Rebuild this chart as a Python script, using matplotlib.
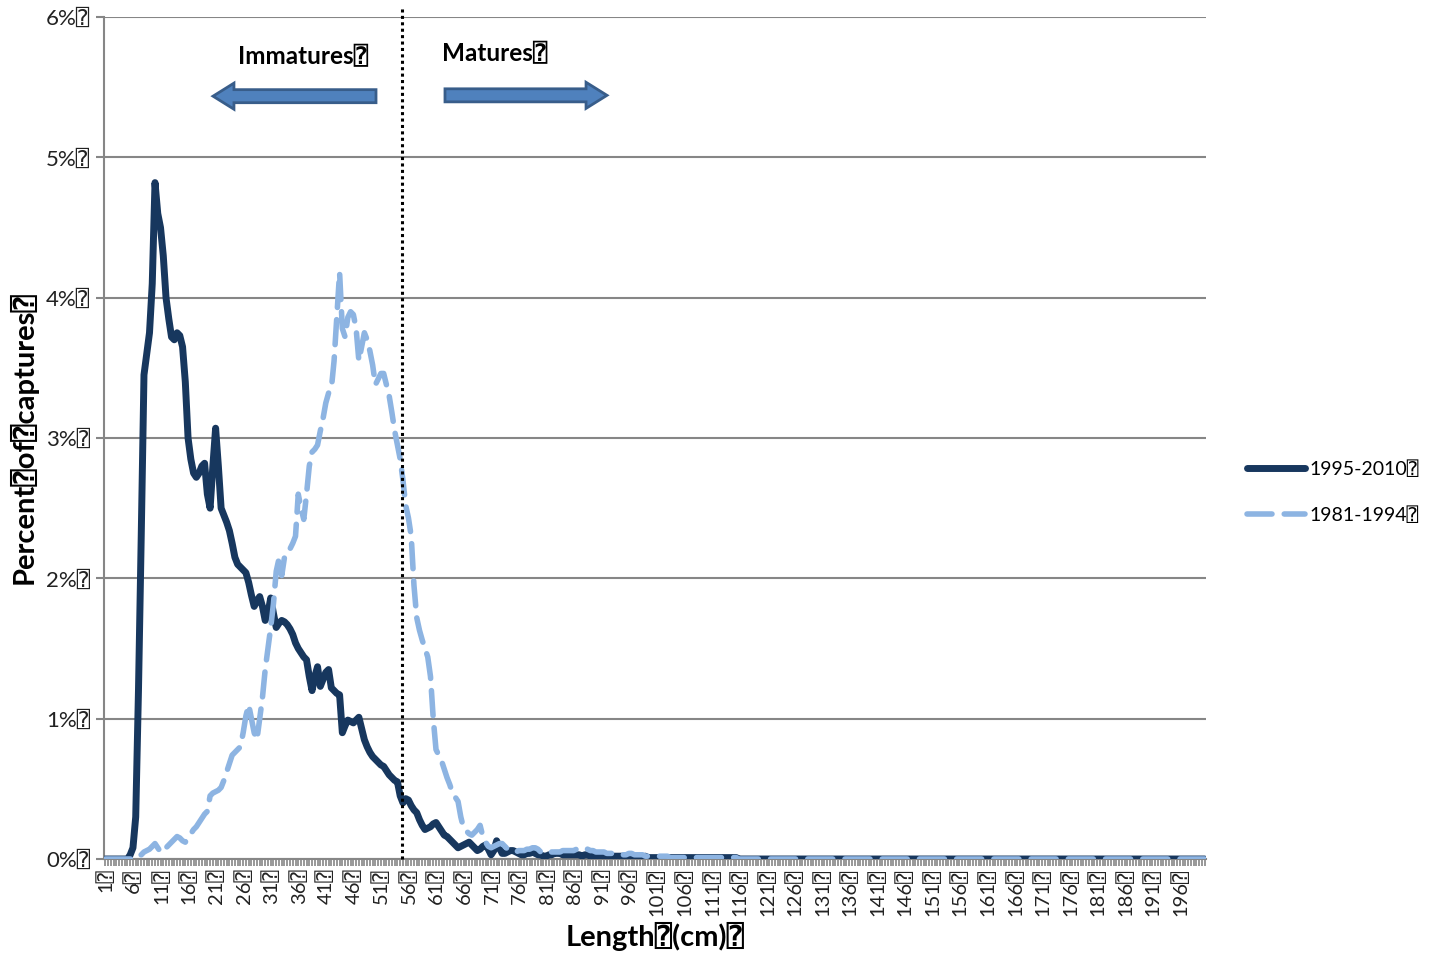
import numpy as np
import matplotlib
matplotlib.use("Agg")
import matplotlib.pyplot as plt
from matplotlib.patches import FancyArrow

plt.rcParams['font.family'] = ['Lato', 'DejaVu Sans', 'DejaVu Sans Mono']

BOX = "\u2370"

# Length categories (cm), in 0.5 cm steps
lengths = np.arange(1, 200.51, 0.5)

# Percent of captures, 1995-2010 (index 0 = 1 cm, step 0.5 cm)
recent = [
    0, 0, 0, 0, 0, 0, 0, 0, 0.0, 0.03,
    0.08, 0.3, 1.2, 2.3, 3.45, 3.6, 3.75, 4.1, 4.82, 4.6,
    4.5, 4.3, 4.0, 3.85, 3.72, 3.7, 3.75, 3.73, 3.65, 3.4,
    3.0, 2.85, 2.75, 2.72, 2.75, 2.8, 2.82, 2.6, 2.5, 2.8,
    3.07, 2.8, 2.5, 2.45, 2.4, 2.34, 2.25, 2.15, 2.1, 2.08,
    2.06, 2.04, 1.97, 1.88, 1.8, 1.84, 1.87, 1.8, 1.7, 1.75,
    1.86, 1.75, 1.65, 1.68, 1.7, 1.69, 1.67, 1.64, 1.6, 1.54,
    1.5, 1.47, 1.44, 1.42, 1.3, 1.2, 1.3, 1.37, 1.23, 1.28,
    1.33, 1.35, 1.22, 1.2, 1.18, 1.17, 0.9, 0.95, 0.99, 0.98,
    0.97, 0.99, 1.01, 0.93, 0.85, 0.8, 0.76, 0.73, 0.71, 0.69,
    0.67, 0.66, 0.63, 0.6, 0.58, 0.56, 0.55, 0.45, 0.4, 0.43,
    0.42, 0.38, 0.35, 0.33, 0.28, 0.24, 0.21, 0.22, 0.23, 0.25,
    0.26, 0.23, 0.2, 0.17, 0.16, 0.14, 0.12, 0.1, 0.08, 0.09,
    0.1, 0.11, 0.12, 0.1, 0.08, 0.06, 0.07, 0.09, 0.1, 0.07,
    0.03, 0.06, 0.13, 0.08, 0.04, 0.04, 0.05, 0.06, 0.06, 0.05,
    0.04, 0.03, 0.03, 0.04, 0.04, 0.05, 0.04, 0.03, 0.03, 0.02,
    0.02, 0.03, 0.03, 0.04, 0.04, 0.04, 0.03, 0.03, 0.03, 0.03,
    0.03, 0.03, 0.03, 0.02, 0.03, 0.03, 0.02, 0.02, 0.03, 0.02,
    0.02, 0.02, 0.02, 0.03, 0.02, 0.02, 0.02, 0.02, 0.02, 0.02,
    0.02, 0.02, 0.01, 0.02, 0.01, 0.01, 0.02, 0.01, 0.01, 0.01,
    0.01, 0.01, 0.01, 0.01, 0.01, 0.01, 0.01, 0.01, 0.01, 0.01,
    0.01, 0.01, 0.01, 0.01, 0.01, 0.01, 0.01, 0.01, 0.01, 0.01,
    0.01, 0.01, 0.01, 0.01, 0.01, 0.01, 0.01, 0.01, 0.01, 0.01,
] + [0.0] * 170

# Percent of captures, 1981-1994
older = [
    0, 0, 0, 0, 0, 0, 0, 0, 0, 0,
    0, 0, 0.02, 0.03, 0.05, 0.06, 0.07, 0.09, 0.11, 0.08,
    0.05, 0.05, 0.08, 0.1, 0.12, 0.14, 0.16, 0.15, 0.13, 0.12,
    0.15, 0.18, 0.21, 0.23, 0.26, 0.29, 0.32, 0.34, 0.45, 0.47,
    0.48, 0.49, 0.51, 0.56, 0.62, 0.68, 0.74, 0.76, 0.78, 0.8,
    0.9, 1.02, 1.1, 1.0, 0.9, 0.85, 1.0, 1.15, 1.35, 1.5,
    1.65, 1.82, 2.05, 2.14, 2.02, 2.15, 2.2, 2.21, 2.25, 2.3,
    2.6, 2.5, 2.42, 2.6, 2.8, 2.9, 2.92, 2.95, 3.05, 3.14,
    3.25, 3.32, 3.35, 3.55, 3.86, 4.18, 3.78, 3.72, 3.86, 3.9,
    3.88, 3.78, 3.55, 3.65, 3.75, 3.7, 3.62, 3.52, 3.38, 3.42,
    3.46, 3.46, 3.38, 3.3, 3.18, 3.05, 2.95, 2.85, 2.7, 2.52,
    2.43, 2.3, 1.95, 1.72, 1.63, 1.56, 1.5, 1.44, 1.3, 1.0,
    0.78, 0.74, 0.7, 0.64, 0.58, 0.53, 0.47, 0.44, 0.41, 0.3,
    0.22, 0.2, 0.18, 0.17, 0.19, 0.21, 0.24, 0.16, 0.12, 0.09,
    0.08, 0.09, 0.1, 0.11, 0.11, 0.09, 0.07, 0.06, 0.05, 0.05,
    0.06, 0.06, 0.06, 0.07, 0.07, 0.08, 0.08, 0.07, 0.05, 0.04,
    0.04, 0.05, 0.05, 0.05, 0.05, 0.05, 0.06, 0.06, 0.06, 0.06,
    0.06, 0.07, 0.08, 0.08, 0.08, 0.07, 0.06, 0.06, 0.05, 0.05,
    0.05, 0.05, 0.04, 0.04, 0.04, 0.04, 0.04, 0.04, 0.03, 0.03,
    0.04, 0.04, 0.03, 0.03, 0.03, 0.03, 0.02, 0.02, 0.02, 0.02,
    0.02, 0.02, 0.02, 0.02, 0.02, 0.01, 0.01, 0.01, 0.01, 0.01,
    0.01, 0.01, 0.01, 0.01, 0.01, 0.01, 0.01, 0.01, 0.01, 0.01,
    0.01, 0.01, 0.01, 0.01, 0.01, 0.01, 0.01, 0.01, 0.01, 0.01,
] + [0.0] * 170

series_names = ["1995-2010", "1981-1994"]
maturity_length = 54.85  # cm, boundary between immatures and matures
y_ticks = [0, 1, 2, 3, 4, 5, 6]

DARK = "#17375E"
LIGHT = "#8DB4E2"
GRID = "#868686"

fig = plt.figure(figsize=(14.33, 9.57), dpi=100)
ax = fig.add_axes([0.0726, 0.1024, 0.769, 0.8798])

idx = np.arange(len(lengths))
ax.plot(idx, recent, color=DARK, lw=5.0, solid_joinstyle='round',
        solid_capstyle='round', label=series_names[0] + BOX, zorder=3)
ax.plot(idx, older, color=LIGHT, lw=4.0, dashes=(4.5, 2.2),
        dash_capstyle='round', label=series_names[1] + BOX, zorder=4)

ax.set_xlim(-0.5, len(lengths) - 0.5)
ax.set_ylim(0, 6)

# grid
ax.set_yticks(y_ticks)
ax.set_yticklabels([f"{v}%" + BOX for v in y_ticks], fontsize=16, color="#222222")
ax.yaxis.grid(True, color=GRID, lw=1.5)
ax.set_axisbelow(True)

major = idx[::10]
ax.set_xticks(major)
ax.set_xticklabels([f"{int(lengths[i])}" + BOX for i in major], rotation=90,
                   fontsize=14.5, color="#222222")
ax.set_xticks(idx, minor=True)
ax.tick_params(axis='x', which='both', direction='out', length=5, color=GRID, width=1.2, pad=2)
ax.tick_params(axis='y', which='major', direction='out', length=6, color=GRID, width=1.5, pad=4)

for s in ['top', 'right']:
    ax.spines[s].set_visible(False)
for s in ['left', 'bottom']:
    ax.spines[s].set_color(GRID)
    ax.spines[s].set_linewidth(1.5)

# maturity boundary
mat_idx = (maturity_length - lengths[0]) / 0.5
ax.plot([mat_idx, mat_idx], [0, 1.011], transform=ax.get_xaxis_transform(),
        color='black', lw=2.2, linestyle=(0, (1, 1.1)), clip_on=False, zorder=5)

ax.set_ylabel("Percent" + BOX + "of" + BOX + "captures" + BOX, fontsize=21,
              fontweight='bold', labelpad=6)
ax.set_xlabel("Length" + BOX + "(cm)" + BOX, fontsize=21, fontweight='bold', labelpad=4)

# annotations
ax.text(0.1806, 0.9525, "Immatures" + BOX, transform=ax.transAxes, ha='center',
        va='center', fontsize=17.5, fontweight='bold')
ax.text(0.3548, 0.956, "Matures" + BOX, transform=ax.transAxes, ha='center',
        va='center', fontsize=17.5, fontweight='bold')
ax.add_patch(FancyArrow(0.2468, 0.906, -0.1479, 0, width=0.0155, head_width=0.031,
                        head_length=0.019, length_includes_head=True,
                        transform=ax.transAxes, facecolor="#4F81BD",
                        edgecolor="#385D8A", lw=2, clip_on=False, zorder=6))
ax.add_patch(FancyArrow(0.3094, 0.907, 0.147, 0, width=0.0155, head_width=0.031,
                        head_length=0.019, length_includes_head=True,
                        transform=ax.transAxes, facecolor="#4F81BD",
                        edgecolor="#385D8A", lw=2, clip_on=False, zorder=6))

ax.legend(loc='upper left', bbox_to_anchor=(1.03, 0.483), frameon=False,
          fontsize=14, handlelength=3.0, handletextpad=0.2, labelspacing=1.45,
          borderaxespad=0)

fig.savefig("out.png", dpi=100)
